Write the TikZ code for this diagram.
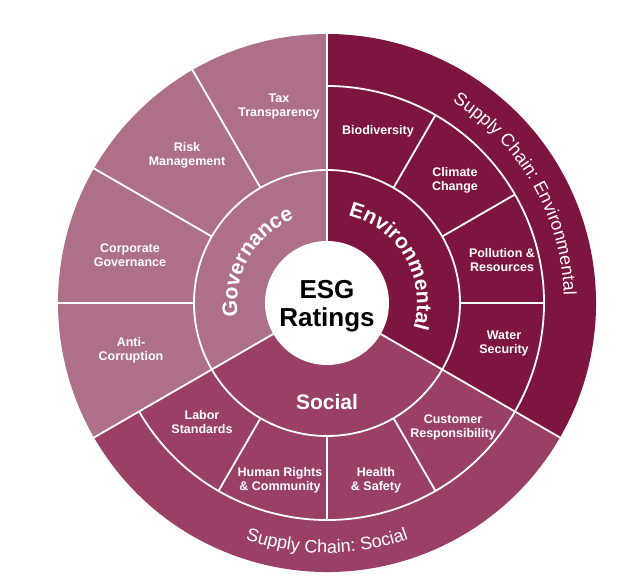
\documentclass[tikz,border=0pt]{standalone}
\usepackage{fontspec}
\setmainfont{Liberation Sans}
\usetikzlibrary{decorations.text}

\definecolor{govcol}{HTML}{AE6F8A}
\definecolor{soccol}{HTML}{9A4066}
\definecolor{envcol}{HTML}{7E1540}

\tikzset{
  sep/.style={white, line width=1.8pt},
  item/.style={text=white, font=\fontsize{12.5}{14}\selectfont\bfseries, align=center},
  pillar/.style={text=white, font=\fontsize{21}{21}\selectfont\bfseries},
  arctext/.style={decorate, decoration={text along path, text color=white, text align=center, text={#1}}}
}

\begin{document}
\begin{tikzpicture}[x=1pt,y=1pt]
\useasboundingbox (-327,-277) rectangle (305,303);

% the three pillars
\fill[govcol] (0,0) -- (90:269pt) arc[start angle=90, end angle=210, radius=269pt] -- cycle;
\fill[envcol] (0,0) -- (-30:269pt) arc[start angle=-30, end angle=90, radius=269pt] -- cycle;
\fill[soccol] (0,0) -- (210:269pt) arc[start angle=210, end angle=330, radius=269pt] -- cycle;

% rings
\draw[sep] (0,0) circle[radius=133pt];
\draw[sep] (210:217pt) arc[start angle=210, end angle=450, radius=217pt];

% spokes
\foreach \a in {90,210,330}{
    \draw[sep] (\a:62pt) -- (\a:269pt);
}
\foreach \a in {120,150,180}{
    \draw[sep] (\a:133pt) -- (\a:269pt);
}
\foreach \a in {0,30,60,240,270,300}{
    \draw[sep] (\a:133pt) -- (\a:217pt);
}

\fill[white] (0,0) circle[radius=62pt];

\node[font=\fontsize{26}{28}\selectfont\bfseries, align=center] (esg) at (0,-3) {ESG\\Ratings};

% middle ring
\path[arctext={|\fontsize{21}{21}\selectfont\bfseries|Governance}] (210:90pt) arc[start angle=210, end angle=90, radius=90pt];
\path[arctext={|\fontsize{21}{21}\selectfont\bfseries|Environmental}] (90:90pt) arc[start angle=90, end angle=-30, radius=90pt];
\node[pillar] (social) at (0,-99) {Social};

% governance
\node[item] (tax) at (-48,196) {Tax\\Transparency};
\node[item] (risk) at (-140,148) {Risk\\Management};
\node[item] (corp) at (-197,48) {Corporate\\Governance};
\node[item] (anti) at (-196,-47) {Anti-\\Corruption};

% environmental
\node[item] (bio) at (51,172) {Biodiversity};
\node[item] (climate) at (128,123) {Climate\\Change};
\node[item] (pollution) at (175,43) {Pollution \&\\Resources};
\node[item] (water) at (177,-41) {Water\\Security};

% social
\node[item] (labor) at (-125,-119) {Labor\\Standards};
\node[item] (human) at (-47,-177) {Human Rights\\\& Community};
\node[item] (health) at (49,-177) {Health\\\& Safety};
\node[item] (customer) at (126,-124) {Customer\\Responsibility};

% supply chain
\path[arctext={|\fontsize{18}{18}\selectfont|Supply Chain: Environmental}] (90:237pt) arc[start angle=90, end angle=-30, radius=237pt];
\path[arctext={|\fontsize{18}{18}\selectfont|Supply Chain: Social}] (210:250pt) arc[start angle=210, end angle=330, radius=250pt];

\end{tikzpicture}
\end{document}
